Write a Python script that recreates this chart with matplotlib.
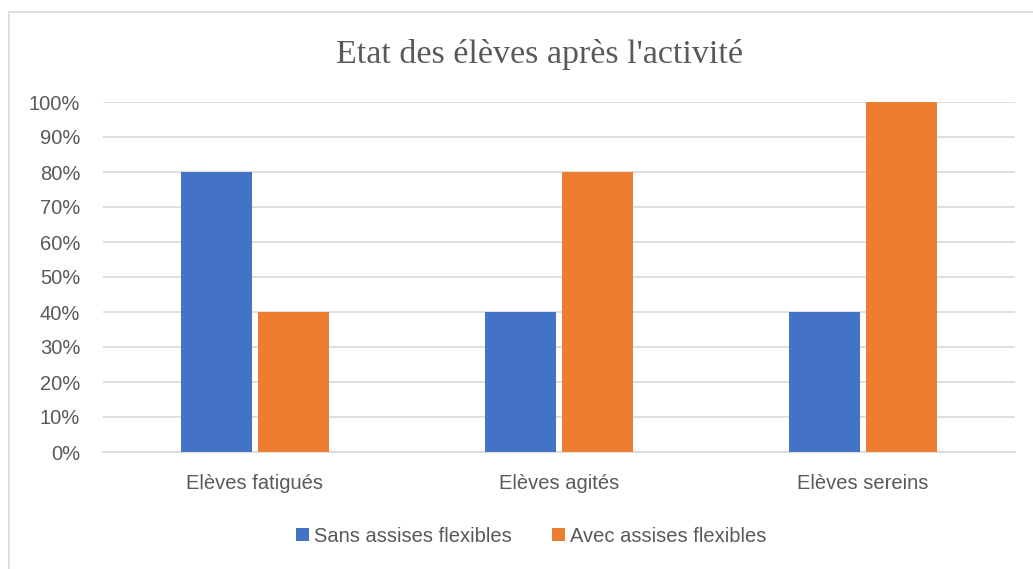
import numpy as np
import matplotlib.pyplot as plt
from matplotlib.patches import Rectangle

categories = ['Elèves fatigués', 'Elèves agités', 'Elèves sereins']
sans = [80, 40, 40]
avec = [40, 80, 100]
series_names = ['Sans assises flexibles', 'Avec assises flexibles']

W, H = 1033, 569
fig = plt.figure(figsize=(W / 100, H / 100), dpi=100)
ax = fig.add_axes([103 / W, 1 - 452 / H, 912 / W, 350 / H])

# chart frame
fig.patches.append(Rectangle((9 / W, -0.05), 1, 1.05 - 12 / H, transform=fig.transFigure,
                             fill=False, edgecolor='#d9d9d9', lw=1.2))

x = np.arange(len(categories))
bw = 0.234
off = 0.128
ax.bar(x - off, sans, bw, color='#4472C4', label=series_names[0], zorder=3)
ax.bar(x + off, avec, bw, color='#ED7D31', label=series_names[1], zorder=3)

ax.set_xlim(-0.5, 2.5)
ax.set_ylim(0, 100)
ax.set_yticks(range(0, 101, 10))
ax.set_yticklabels([f'{v}%' for v in range(0, 101, 10)])
ax.set_xticks(x)
ax.set_xticklabels(categories)
ax.grid(axis='y', color='#d9d9d9', lw=1.2, zorder=0)
for s in ['top', 'right', 'left']:
    ax.spines[s].set_visible(False)
ax.spines['bottom'].set_color('#d9d9d9')
ax.spines['bottom'].set_linewidth(1.2)
ax.tick_params(length=0, labelsize=14.5, colors='#595959', labelfontfamily='Liberation Sans')
ax.tick_params(axis='x', pad=16)
ax.tick_params(axis='y', pad=16.5)

fig.text(540 / W, 1 - 55 / H, "Etat des élèves après l'activité", ha='center', va='center',
         fontsize=24.5, family='Liberation Serif', color='#595959')

leg = fig.legend(loc='center', bbox_to_anchor=(531 / W, 1 - 536 / H), ncol=2, frameon=False,
                 prop={'family': 'Liberation Sans', 'size': 14.5}, handlelength=0.65,
                 handleheight=0.65, handletextpad=0.25, columnspacing=2.0)
for t in leg.get_texts():
    t.set_color('#595959')

plt.savefig('out.png', dpi=100)
